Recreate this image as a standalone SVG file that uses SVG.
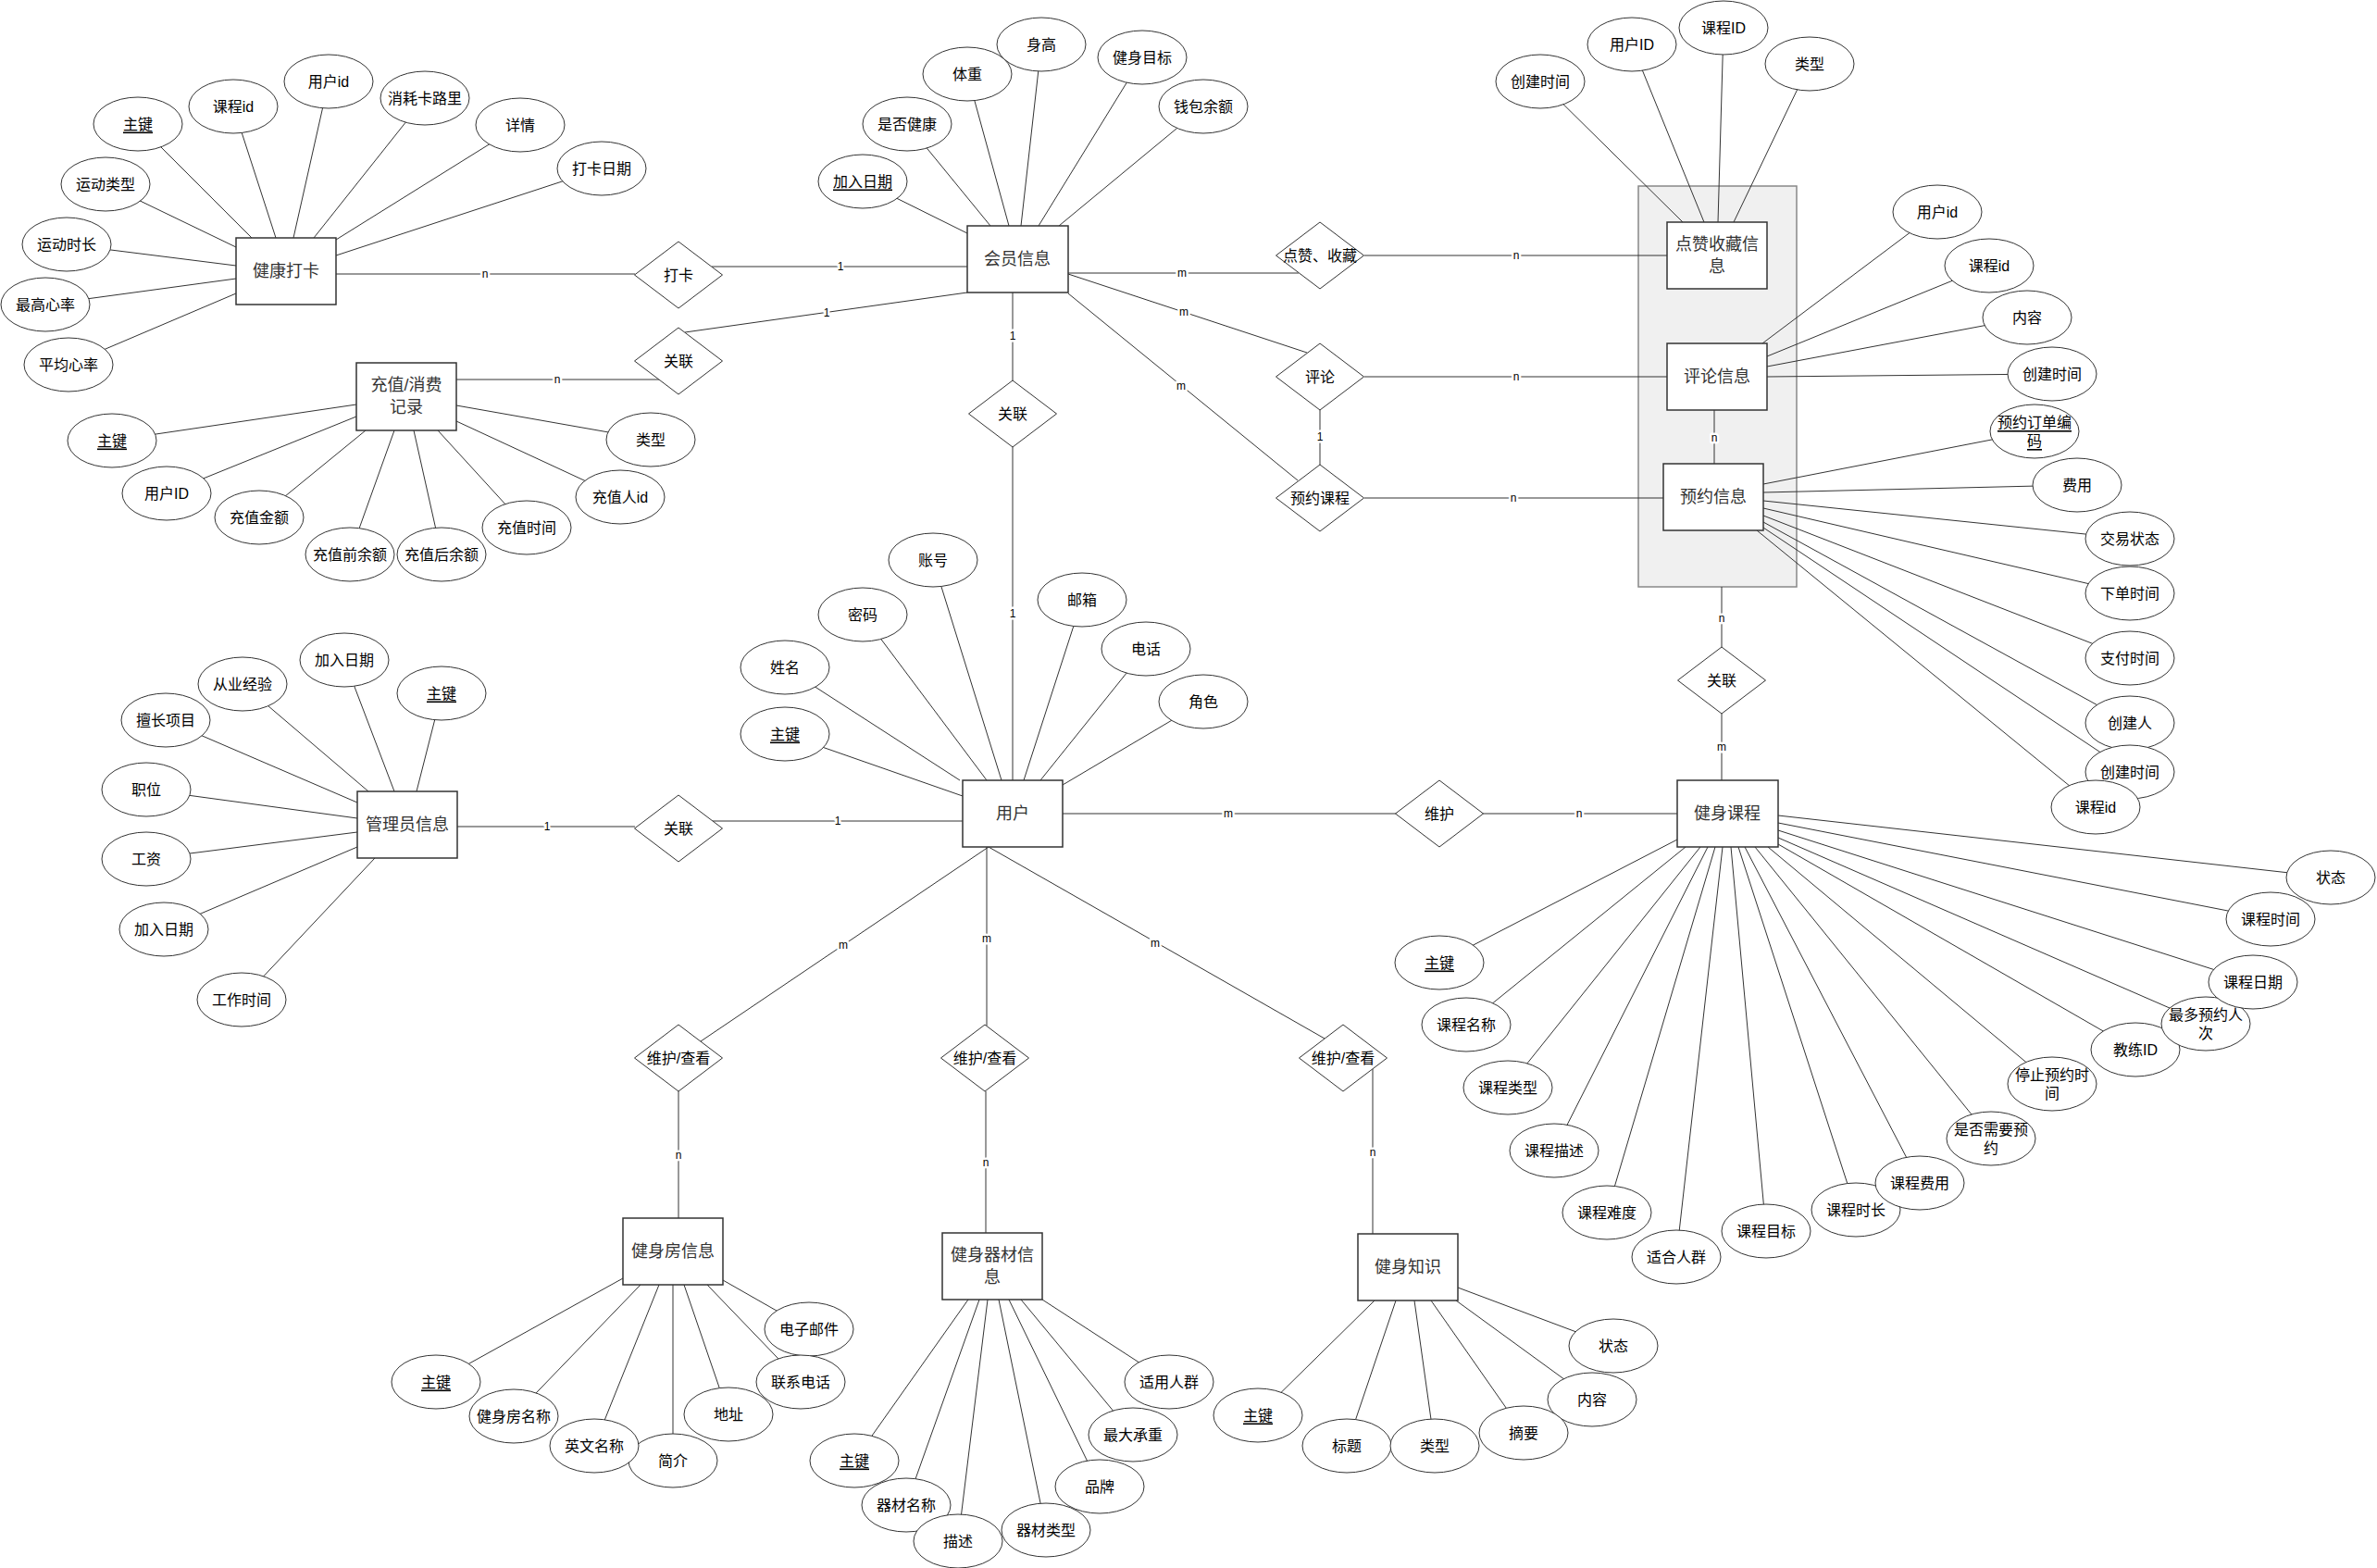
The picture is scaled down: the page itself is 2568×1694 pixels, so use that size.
<svg xmlns="http://www.w3.org/2000/svg" xmlns:xlink="http://www.w3.org/1999/xlink" width="2568" height="1694" viewBox="0 0 2568 1694">
<style>
text{font-family:"Liberation Sans","Noto Sans CJK SC",sans-serif;text-anchor:middle;dominant-baseline:central;fill:#000}
.ent rect{fill:#fff;stroke:#333;stroke-width:1.5}
.ent text{font-size:18px;fill:#333}
.at ellipse{fill:#fff;stroke:#333;stroke-width:1}
.at text{font-size:16px}
.rel use{fill:#fff;stroke:#333;stroke-width:1}
.rel text{font-size:16px}
.u{text-decoration:underline}
#connectors line{stroke:#333;stroke-width:1}
#connectors text{font-size:12px;paint-order:stroke;stroke:#fff;stroke-width:5px;stroke-linejoin:round}
</style>
<defs>
<path id="dia" d="M-47.5 0 L0 -36 L47.5 0 L0 36 Z"/>
</defs>
<rect width="2568" height="1694" fill="#fff"/>
<g id="container"><rect x="1770" y="201" width="171" height="433" fill="#f0f0f0" stroke="#888" stroke-width="1.5"/></g>
<g id="connectors">
<!-- relationship lines -->
<line x1="363" y1="296" x2="686" y2="296"/><text x="524" y="296">n</text>
<line x1="769" y1="288" x2="1045" y2="288"/><text x="908" y="288">1</text>
<line x1="493" y1="410" x2="712" y2="410"/><text x="602" y="410">n</text>
<line x1="740" y1="359" x2="1045" y2="316"/><text x="893" y="338">1</text>
<line x1="1094" y1="316" x2="1094" y2="411"/><text x="1094" y="363">1</text>
<line x1="1094" y1="483" x2="1094" y2="843"/><text x="1094" y="663">1</text>
<line x1="1154" y1="295" x2="1403" y2="295"/><text x="1277" y="295">m</text>
<line x1="1474" y1="276" x2="1801" y2="276"/><text x="1638" y="276">n</text>
<line x1="1154" y1="296" x2="1412" y2="381"/><text x="1279" y="337">m</text>
<line x1="1474" y1="407" x2="1801" y2="407"/><text x="1638" y="407">n</text>
<line x1="1154" y1="317" x2="1402" y2="519"/><text x="1276" y="417">m</text>
<line x1="1426" y1="443" x2="1426" y2="502"/><text x="1426" y="472">1</text>
<line x1="1474" y1="538" x2="1797" y2="538"/><text x="1635" y="538">n</text>
<line x1="1852" y1="443" x2="1852" y2="501"/><text x="1852" y="473">n</text>
<line x1="1860" y1="634" x2="1860" y2="699"/><text x="1860" y="668">n</text>
<line x1="1860" y1="771" x2="1860" y2="843"/><text x="1860" y="807">m</text>
<line x1="494" y1="893" x2="686" y2="893"/><text x="591" y="893">1</text>
<line x1="770" y1="887" x2="1040" y2="887"/><text x="905" y="887">1</text>
<line x1="1148" y1="879" x2="1508" y2="879"/><text x="1327" y="879">m</text>
<line x1="1602" y1="879" x2="1812" y2="879"/><text x="1706" y="879">n</text>
<line x1="1068" y1="915" x2="757" y2="1125"/><text x="911" y="1021">m</text>
<line x1="1066" y1="915" x2="1066" y2="1108"/><text x="1066" y="1014">m</text>
<line x1="1068" y1="915" x2="1431" y2="1122"/><text x="1248" y="1019">m</text>
<line x1="733" y1="1179" x2="733" y2="1316"/><text x="733" y="1248">n</text>
<line x1="1065" y1="1179" x2="1065" y2="1332"/><text x="1065" y="1256">n</text>
<line x1="1483" y1="1155" x2="1483" y2="1333"/><text x="1483" y="1245">n</text>
<!-- attribute lines: 健康打卡 -->
<line x1="149" y1="134" x2="272" y2="257"/>
<line x1="252" y1="115" x2="298" y2="257"/>
<line x1="355" y1="88" x2="317" y2="257"/>
<line x1="459" y1="106" x2="339" y2="257"/>
<line x1="562" y1="135" x2="363" y2="259"/>
<line x1="650" y1="182" x2="363" y2="276"/>
<line x1="114" y1="199" x2="255" y2="267"/>
<line x1="72" y1="264" x2="255" y2="287"/>
<line x1="49" y1="329" x2="255" y2="301"/>
<line x1="74" y1="394" x2="255" y2="317"/>
<!-- 充值/消费记录 -->
<line x1="121" y1="476" x2="385" y2="437"/>
<line x1="180" y1="533" x2="385" y2="450"/>
<line x1="280" y1="559" x2="395" y2="465"/>
<line x1="378" y1="599" x2="426" y2="465"/>
<line x1="477" y1="599" x2="447" y2="465"/>
<line x1="569" y1="570" x2="473" y2="465"/>
<line x1="670" y1="537" x2="493" y2="455"/>
<line x1="703" y1="475" x2="493" y2="438"/>
<!-- 会员信息 -->
<line x1="932" y1="196" x2="1045" y2="252"/>
<line x1="980" y1="134" x2="1070" y2="244"/>
<line x1="1045" y1="80" x2="1090" y2="244"/>
<line x1="1125" y1="48" x2="1103" y2="244"/>
<line x1="1234" y1="62" x2="1122" y2="244"/>
<line x1="1300" y1="115" x2="1144" y2="244"/>
<!-- 点赞收藏信息 -->
<line x1="1664" y1="88" x2="1818" y2="240"/>
<line x1="1763" y1="48" x2="1841" y2="240"/>
<line x1="1862" y1="30" x2="1856" y2="240"/>
<line x1="1955" y1="69" x2="1873" y2="240"/>
<!-- 评论信息 -->
<line x1="2093" y1="229" x2="1904" y2="371"/>
<line x1="2149" y1="287" x2="1909" y2="385"/>
<line x1="2190" y1="343" x2="1909" y2="396"/>
<line x1="2217" y1="404" x2="1909" y2="407"/>
<!-- 预约信息 -->
<line x1="2198" y1="466" x2="1905" y2="523"/>
<line x1="2244" y1="524" x2="1905" y2="532"/>
<line x1="2301" y1="582" x2="1905" y2="541"/>
<line x1="2301" y1="641" x2="1905" y2="549"/>
<line x1="2301" y1="711" x2="1905" y2="557"/>
<line x1="2301" y1="781" x2="1905" y2="564"/>
<line x1="2301" y1="834" x2="1905" y2="570"/>
<line x1="2264" y1="872" x2="1898" y2="573"/>
<!-- 管理员信息 -->
<line x1="372" y1="713" x2="426" y2="855"/>
<line x1="477" y1="749" x2="450" y2="855"/>
<line x1="262" y1="739" x2="398" y2="855"/>
<line x1="179" y1="778" x2="386" y2="867"/>
<line x1="158" y1="853" x2="386" y2="884"/>
<line x1="158" y1="928" x2="386" y2="899"/>
<line x1="177" y1="1004" x2="386" y2="915"/>
<line x1="261" y1="1080" x2="405" y2="927"/>
<!-- 用户 -->
<line x1="848" y1="793" x2="1040" y2="860"/>
<line x1="848" y1="721" x2="1037" y2="843"/>
<line x1="932" y1="664" x2="1066" y2="843"/>
<line x1="1008" y1="605" x2="1082" y2="843"/>
<line x1="1169" y1="648" x2="1106" y2="843"/>
<line x1="1238" y1="701" x2="1124" y2="843"/>
<line x1="1300" y1="758" x2="1148" y2="848"/>
<!-- 健身课程 -->
<line x1="1555" y1="1040" x2="1812" y2="907"/>
<line x1="1584" y1="1107" x2="1821" y2="915"/>
<line x1="1629" y1="1175" x2="1837" y2="915"/>
<line x1="1679" y1="1243" x2="1845" y2="915"/>
<line x1="1736" y1="1310" x2="1853" y2="915"/>
<line x1="1811" y1="1358" x2="1861" y2="915"/>
<line x1="1908" y1="1330" x2="1870" y2="915"/>
<line x1="2005" y1="1307" x2="1878" y2="915"/>
<line x1="2074" y1="1278" x2="1885" y2="915"/>
<line x1="2151" y1="1230" x2="1896" y2="915"/>
<line x1="2217" y1="1171" x2="1910" y2="915"/>
<line x1="2307" y1="1134" x2="1921" y2="912"/>
<line x1="2383" y1="1106" x2="1921" y2="905"/>
<line x1="2434" y1="1061" x2="1921" y2="897"/>
<line x1="2453" y1="993" x2="1921" y2="889"/>
<line x1="2518" y1="948" x2="1921" y2="881"/>
<!-- 健身房信息 -->
<line x1="471" y1="1493" x2="673" y2="1381"/>
<line x1="555" y1="1530" x2="692" y2="1388"/>
<line x1="642" y1="1562" x2="712" y2="1388"/>
<line x1="727" y1="1578" x2="727" y2="1388"/>
<line x1="787" y1="1528" x2="739" y2="1388"/>
<line x1="865" y1="1493" x2="764" y2="1388"/>
<line x1="874" y1="1436" x2="781" y2="1383"/>
<!-- 健身器材信息 -->
<line x1="923" y1="1578" x2="1046" y2="1404"/>
<line x1="979" y1="1626" x2="1058" y2="1404"/>
<line x1="1035" y1="1665" x2="1067" y2="1404"/>
<line x1="1130" y1="1653" x2="1079" y2="1404"/>
<line x1="1188" y1="1606" x2="1090" y2="1404"/>
<line x1="1224" y1="1550" x2="1103" y2="1404"/>
<line x1="1263" y1="1493" x2="1126" y2="1404"/>
<!-- 健身知识 -->
<line x1="1359" y1="1529" x2="1485" y2="1405"/>
<line x1="1455" y1="1562" x2="1508" y2="1405"/>
<line x1="1550" y1="1562" x2="1528" y2="1405"/>
<line x1="1646" y1="1548" x2="1546" y2="1405"/>
<line x1="1720" y1="1512" x2="1573" y2="1405"/>
<line x1="1743" y1="1454" x2="1575" y2="1391"/>
</g>

<!-- Entities -->
<g id="e-jkdk" class="ent"><rect x="255" y="257" width="108" height="72"/><text x="309" y="293">健康打卡</text></g>
<g id="e-czjl" class="ent"><rect x="385" y="392" width="108" height="73"/><text x="439" y="428"><tspan x="439" dy="-12">充值/消费</tspan><tspan x="439" dy="24">记录</tspan></text></g>
<g id="e-hyxx" class="ent"><rect x="1045" y="244" width="109" height="72"/><text x="1099" y="280">会员信息</text></g>
<g id="e-dzsc" class="ent"><rect x="1801" y="240" width="108" height="72"/><text x="1855" y="276"><tspan x="1855" dy="-12">点赞收藏信</tspan><tspan x="1855" dy="24">息</tspan></text></g>
<g id="e-plxx" class="ent"><rect x="1801" y="371" width="108" height="72"/><text x="1855" y="407">评论信息</text></g>
<g id="e-yyxx" class="ent"><rect x="1797" y="501" width="108" height="72"/><text x="1851" y="537">预约信息</text></g>
<g id="e-glyxx" class="ent"><rect x="386" y="855" width="108" height="72"/><text x="440" y="891">管理员信息</text></g>
<g id="e-yh" class="ent"><rect x="1040" y="843" width="108" height="72"/><text x="1094" y="879">用户</text></g>
<g id="e-jskc" class="ent"><rect x="1812" y="843" width="109" height="72"/><text x="1866" y="879">健身课程</text></g>
<g id="e-jsfxx" class="ent"><rect x="673" y="1316" width="108" height="72"/><text x="727" y="1352">健身房信息</text></g>
<g id="e-jsqc" class="ent"><rect x="1018" y="1332" width="108" height="72"/><text x="1072" y="1368"><tspan x="1072" dy="-12">健身器材信</tspan><tspan x="1072" dy="24">息</tspan></text></g>
<g id="e-jszs" class="ent"><rect x="1467" y="1333" width="108" height="72"/><text x="1521" y="1369">健身知识</text></g>

<!-- Relationships -->
<g id="r-dk" class="rel"><use xlink:href="#dia" transform="translate(733,297)"/><text x="733" y="297">打卡</text></g>
<g id="r-gl1" class="rel"><use xlink:href="#dia" transform="translate(733,390)"/><text x="733" y="390">关联</text></g>
<g id="r-gl2" class="rel"><use xlink:href="#dia" transform="translate(1094,447)"/><text x="1094" y="447">关联</text></g>
<g id="r-dzsc" class="rel"><use xlink:href="#dia" transform="translate(1426,276)"/><text x="1426" y="276">点赞、收藏</text></g>
<g id="r-pl" class="rel"><use xlink:href="#dia" transform="translate(1426,407)"/><text x="1426" y="407">评论</text></g>
<g id="r-yykc" class="rel"><use xlink:href="#dia" transform="translate(1426,538)"/><text x="1426" y="538">预约课程</text></g>
<g id="r-gl3" class="rel"><use xlink:href="#dia" transform="translate(733,895)"/><text x="733" y="895">关联</text></g>
<g id="r-wh" class="rel"><use xlink:href="#dia" transform="translate(1555,879)"/><text x="1555" y="879">维护</text></g>
<g id="r-gl4" class="rel"><use xlink:href="#dia" transform="translate(1860,735)"/><text x="1860" y="735">关联</text></g>
<g id="r-whck1" class="rel"><use xlink:href="#dia" transform="translate(733,1143)"/><text x="733" y="1143">维护/查看</text></g>
<g id="r-whck2" class="rel"><use xlink:href="#dia" transform="translate(1064,1143)"/><text x="1064" y="1143">维护/查看</text></g>
<g id="r-whck3" class="rel"><use xlink:href="#dia" transform="translate(1451,1143)"/><text x="1451" y="1143">维护/查看</text></g>

<!-- Attributes: 健康打卡 -->
<g id="a-dk-zj" class="at"><ellipse cx="149" cy="134" rx="48" ry="29"/><text x="149" y="134" class="u">主键</text></g>
<g id="a-dk-kcid" class="at"><ellipse cx="252" cy="115" rx="48" ry="29"/><text x="252" y="115">课程id</text></g>
<g id="a-dk-yhid" class="at"><ellipse cx="355" cy="88" rx="48" ry="29"/><text x="355" y="88">用户id</text></g>
<g id="a-dk-xhkll" class="at"><ellipse cx="459" cy="106" rx="48" ry="29"/><text x="459" y="106">消耗卡路里</text></g>
<g id="a-dk-xq" class="at"><ellipse cx="562" cy="135" rx="48" ry="29"/><text x="562" y="135">详情</text></g>
<g id="a-dk-dkrq" class="at"><ellipse cx="650" cy="182" rx="48" ry="29"/><text x="650" y="182">打卡日期</text></g>
<g id="a-dk-ydlx" class="at"><ellipse cx="114" cy="199" rx="48" ry="29"/><text x="114" y="199">运动类型</text></g>
<g id="a-dk-ydsc" class="at"><ellipse cx="72" cy="264" rx="48" ry="29"/><text x="72" y="264">运动时长</text></g>
<g id="a-dk-zgxl" class="at"><ellipse cx="49" cy="329" rx="48" ry="29"/><text x="49" y="329">最高心率</text></g>
<g id="a-dk-pjxl" class="at"><ellipse cx="74" cy="394" rx="48" ry="29"/><text x="74" y="394">平均心率</text></g>
<!-- 充值/消费记录 -->
<g id="a-cz-zj" class="at"><ellipse cx="121" cy="476" rx="48" ry="29"/><text x="121" y="476" class="u">主键</text></g>
<g id="a-cz-yhid" class="at"><ellipse cx="180" cy="533" rx="48" ry="29"/><text x="180" y="533">用户ID</text></g>
<g id="a-cz-czje" class="at"><ellipse cx="280" cy="559" rx="48" ry="29"/><text x="280" y="559">充值金额</text></g>
<g id="a-cz-qye" class="at"><ellipse cx="378" cy="599" rx="48" ry="29"/><text x="378" y="599">充值前余额</text></g>
<g id="a-cz-hye" class="at"><ellipse cx="477" cy="599" rx="48" ry="29"/><text x="477" y="599">充值后余额</text></g>
<g id="a-cz-czsj" class="at"><ellipse cx="569" cy="570" rx="48" ry="29"/><text x="569" y="570">充值时间</text></g>
<g id="a-cz-czrid" class="at"><ellipse cx="670" cy="537" rx="48" ry="29"/><text x="670" y="537">充值人id</text></g>
<g id="a-cz-lx" class="at"><ellipse cx="703" cy="475" rx="48" ry="29"/><text x="703" y="475">类型</text></g>
<!-- 会员信息 -->
<g id="a-hy-jrrq" class="at"><ellipse cx="932" cy="196" rx="48" ry="29"/><text x="932" y="196" class="u">加入日期</text></g>
<g id="a-hy-sfjk" class="at"><ellipse cx="980" cy="134" rx="48" ry="29"/><text x="980" y="134">是否健康</text></g>
<g id="a-hy-sg" class="at"><ellipse cx="1125" cy="48" rx="48" ry="29"/><text x="1125" y="48">身高</text></g>
<g id="a-hy-tz" class="at"><ellipse cx="1045" cy="80" rx="48" ry="29"/><text x="1045" y="80">体重</text></g>
<g id="a-hy-jsmb" class="at"><ellipse cx="1234" cy="62" rx="48" ry="29"/><text x="1234" y="62">健身目标</text></g>
<g id="a-hy-qbye" class="at"><ellipse cx="1300" cy="115" rx="48" ry="29"/><text x="1300" y="115">钱包余额</text></g>
<!-- 点赞收藏信息 -->
<g id="a-dz-cjsj" class="at"><ellipse cx="1664" cy="88" rx="48" ry="29"/><text x="1664" y="88">创建时间</text></g>
<g id="a-dz-yhid" class="at"><ellipse cx="1763" cy="48" rx="48" ry="29"/><text x="1763" y="48">用户ID</text></g>
<g id="a-dz-kcid" class="at"><ellipse cx="1862" cy="30" rx="48" ry="29"/><text x="1862" y="30">课程ID</text></g>
<g id="a-dz-lx" class="at"><ellipse cx="1955" cy="69" rx="48" ry="29"/><text x="1955" y="69">类型</text></g>
<!-- 评论信息 -->
<g id="a-pl-yhid" class="at"><ellipse cx="2093" cy="229" rx="48" ry="29"/><text x="2093" y="229">用户id</text></g>
<g id="a-pl-kcid" class="at"><ellipse cx="2149" cy="287" rx="48" ry="29"/><text x="2149" y="287">课程id</text></g>
<g id="a-pl-nr" class="at"><ellipse cx="2190" cy="343" rx="48" ry="29"/><text x="2190" y="343">内容</text></g>
<g id="a-pl-cjsj" class="at"><ellipse cx="2217" cy="404" rx="48" ry="29"/><text x="2217" y="404">创建时间</text></g>
<!-- 预约信息 -->
<g id="a-yy-ddbm" class="at"><ellipse cx="2198" cy="466" rx="48" ry="29"/><text x="2198" y="466" class="u"><tspan x="2198" dy="-10">预约订单编</tspan><tspan x="2198" dy="20">码</tspan></text></g>
<g id="a-yy-fy" class="at"><ellipse cx="2244" cy="524" rx="48" ry="29"/><text x="2244" y="524">费用</text></g>
<g id="a-yy-jyzt" class="at"><ellipse cx="2301" cy="582" rx="48" ry="29"/><text x="2301" y="582">交易状态</text></g>
<g id="a-yy-xdsj" class="at"><ellipse cx="2301" cy="641" rx="48" ry="29"/><text x="2301" y="641">下单时间</text></g>
<g id="a-yy-zfsj" class="at"><ellipse cx="2301" cy="711" rx="48" ry="29"/><text x="2301" y="711">支付时间</text></g>
<g id="a-yy-cjr" class="at"><ellipse cx="2301" cy="781" rx="48" ry="29"/><text x="2301" y="781">创建人</text></g>
<g id="a-yy-cjsj" class="at"><ellipse cx="2301" cy="834" rx="48" ry="29"/><text x="2301" y="834">创建时间</text></g>
<g id="a-yy-kcid" class="at"><ellipse cx="2264" cy="872" rx="48" ry="29"/><text x="2264" y="872">课程id</text></g>
<!-- 管理员信息 -->
<g id="a-gl-jrrq1" class="at"><ellipse cx="372" cy="713" rx="48" ry="29"/><text x="372" y="713">加入日期</text></g>
<g id="a-gl-zj" class="at"><ellipse cx="477" cy="749" rx="48" ry="29"/><text x="477" y="749" class="u">主键</text></g>
<g id="a-gl-cyjy" class="at"><ellipse cx="262" cy="739" rx="48" ry="29"/><text x="262" y="739">从业经验</text></g>
<g id="a-gl-sczm" class="at"><ellipse cx="179" cy="778" rx="48" ry="29"/><text x="179" y="778">擅长项目</text></g>
<g id="a-gl-zw" class="at"><ellipse cx="158" cy="853" rx="48" ry="29"/><text x="158" y="853">职位</text></g>
<g id="a-gl-gz" class="at"><ellipse cx="158" cy="928" rx="48" ry="29"/><text x="158" y="928">工资</text></g>
<g id="a-gl-jrrq2" class="at"><ellipse cx="177" cy="1004" rx="48" ry="29"/><text x="177" y="1004">加入日期</text></g>
<g id="a-gl-gzsj" class="at"><ellipse cx="261" cy="1080" rx="48" ry="29"/><text x="261" y="1080">工作时间</text></g>
<!-- 用户 -->
<g id="a-yh-zj" class="at"><ellipse cx="848" cy="793" rx="48" ry="29"/><text x="848" y="793" class="u">主键</text></g>
<g id="a-yh-xm" class="at"><ellipse cx="848" cy="721" rx="48" ry="29"/><text x="848" y="721">姓名</text></g>
<g id="a-yh-mm" class="at"><ellipse cx="932" cy="664" rx="48" ry="29"/><text x="932" y="664">密码</text></g>
<g id="a-yh-zh" class="at"><ellipse cx="1008" cy="605" rx="48" ry="29"/><text x="1008" y="605">账号</text></g>
<g id="a-yh-yx" class="at"><ellipse cx="1169" cy="648" rx="48" ry="29"/><text x="1169" y="648">邮箱</text></g>
<g id="a-yh-dh" class="at"><ellipse cx="1238" cy="701" rx="48" ry="29"/><text x="1238" y="701">电话</text></g>
<g id="a-yh-js" class="at"><ellipse cx="1300" cy="758" rx="48" ry="29"/><text x="1300" y="758">角色</text></g>
<!-- 健身课程 -->
<g id="a-kc-zj" class="at"><ellipse cx="1555" cy="1040" rx="48" ry="29"/><text x="1555" y="1040" class="u">主键</text></g>
<g id="a-kc-mc" class="at"><ellipse cx="1584" cy="1107" rx="48" ry="29"/><text x="1584" y="1107">课程名称</text></g>
<g id="a-kc-lx" class="at"><ellipse cx="1629" cy="1175" rx="48" ry="29"/><text x="1629" y="1175">课程类型</text></g>
<g id="a-kc-ms" class="at"><ellipse cx="1679" cy="1243" rx="48" ry="29"/><text x="1679" y="1243">课程描述</text></g>
<g id="a-kc-nd" class="at"><ellipse cx="1736" cy="1310" rx="48" ry="29"/><text x="1736" y="1310">课程难度</text></g>
<g id="a-kc-rq" class="at"><ellipse cx="1811" cy="1358" rx="48" ry="29"/><text x="1811" y="1358">适合人群</text></g>
<g id="a-kc-mb" class="at"><ellipse cx="1908" cy="1330" rx="48" ry="29"/><text x="1908" y="1330">课程目标</text></g>
<g id="a-kc-sc" class="at"><ellipse cx="2005" cy="1307" rx="48" ry="29"/><text x="2005" y="1307">课程时长</text></g>
<g id="a-kc-fy" class="at"><ellipse cx="2074" cy="1278" rx="48" ry="29"/><text x="2074" y="1278">课程费用</text></g>
<g id="a-kc-sfyy" class="at"><ellipse cx="2151" cy="1230" rx="48" ry="29"/><text x="2151" y="1230"><tspan x="2151" dy="-10">是否需要预</tspan><tspan x="2151" dy="20">约</tspan></text></g>
<g id="a-kc-tzyy" class="at"><ellipse cx="2217" cy="1171" rx="48" ry="29"/><text x="2217" y="1171"><tspan x="2217" dy="-10">停止预约时</tspan><tspan x="2217" dy="20">间</tspan></text></g>
<g id="a-kc-jlid" class="at"><ellipse cx="2307" cy="1134" rx="48" ry="29"/><text x="2307" y="1134">教练ID</text></g>
<g id="a-kc-zdyy" class="at"><ellipse cx="2383" cy="1106" rx="48" ry="29"/><text x="2383" y="1106"><tspan x="2383" dy="-10">最多预约人</tspan><tspan x="2383" dy="20">次</tspan></text></g>
<g id="a-kc-rqi" class="at"><ellipse cx="2434" cy="1061" rx="48" ry="29"/><text x="2434" y="1061">课程日期</text></g>
<g id="a-kc-sj" class="at"><ellipse cx="2453" cy="993" rx="48" ry="29"/><text x="2453" y="993">课程时间</text></g>
<g id="a-kc-zt" class="at"><ellipse cx="2518" cy="948" rx="48" ry="29"/><text x="2518" y="948">状态</text></g>
<!-- 健身房信息 -->
<g id="a-jsf-zj" class="at"><ellipse cx="471" cy="1493" rx="48" ry="29"/><text x="471" y="1493" class="u">主键</text></g>
<g id="a-jsf-mc" class="at"><ellipse cx="555" cy="1530" rx="48" ry="29"/><text x="555" y="1530">健身房名称</text></g>
<g id="a-jsf-jj" class="at"><ellipse cx="727" cy="1578" rx="48" ry="29"/><text x="727" y="1578">简介</text></g>
<g id="a-jsf-ywmc" class="at"><ellipse cx="642" cy="1562" rx="48" ry="29"/><text x="642" y="1562">英文名称</text></g>
<g id="a-jsf-dz" class="at"><ellipse cx="787" cy="1528" rx="48" ry="29"/><text x="787" y="1528">地址</text></g>
<g id="a-jsf-yj" class="at"><ellipse cx="874" cy="1436" rx="48" ry="29"/><text x="874" y="1436">电子邮件</text></g>
<g id="a-jsf-dh" class="at"><ellipse cx="865" cy="1493" rx="48" ry="29"/><text x="865" y="1493">联系电话</text></g>
<!-- 健身器材信息 -->
<g id="a-qc-zj" class="at"><ellipse cx="923" cy="1578" rx="48" ry="29"/><text x="923" y="1578" class="u">主键</text></g>
<g id="a-qc-mc" class="at"><ellipse cx="979" cy="1626" rx="48" ry="29"/><text x="979" y="1626">器材名称</text></g>
<g id="a-qc-lx" class="at"><ellipse cx="1130" cy="1653" rx="48" ry="29"/><text x="1130" y="1653">器材类型</text></g>
<g id="a-qc-ms" class="at"><ellipse cx="1035" cy="1665" rx="48" ry="29"/><text x="1035" y="1665">描述</text></g>
<g id="a-qc-pp" class="at"><ellipse cx="1188" cy="1606" rx="48" ry="29"/><text x="1188" y="1606">品牌</text></g>
<g id="a-qc-zdcz" class="at"><ellipse cx="1224" cy="1550" rx="48" ry="29"/><text x="1224" y="1550">最大承重</text></g>
<g id="a-qc-syrq" class="at"><ellipse cx="1263" cy="1493" rx="48" ry="29"/><text x="1263" y="1493">适用人群</text></g>
<!-- 健身知识 -->
<g id="a-zs-zj" class="at"><ellipse cx="1359" cy="1529" rx="48" ry="29"/><text x="1359" y="1529" class="u">主键</text></g>
<g id="a-zs-bt" class="at"><ellipse cx="1455" cy="1562" rx="48" ry="29"/><text x="1455" y="1562">标题</text></g>
<g id="a-zs-lx" class="at"><ellipse cx="1550" cy="1562" rx="48" ry="29"/><text x="1550" y="1562">类型</text></g>
<g id="a-zs-zt" class="at"><ellipse cx="1743" cy="1454" rx="48" ry="29"/><text x="1743" y="1454">状态</text></g>
<g id="a-zs-nr" class="at"><ellipse cx="1720" cy="1512" rx="48" ry="29"/><text x="1720" y="1512">内容</text></g>
<g id="a-zs-zy" class="at"><ellipse cx="1646" cy="1548" rx="48" ry="29"/><text x="1646" y="1548">摘要</text></g>
</svg>
